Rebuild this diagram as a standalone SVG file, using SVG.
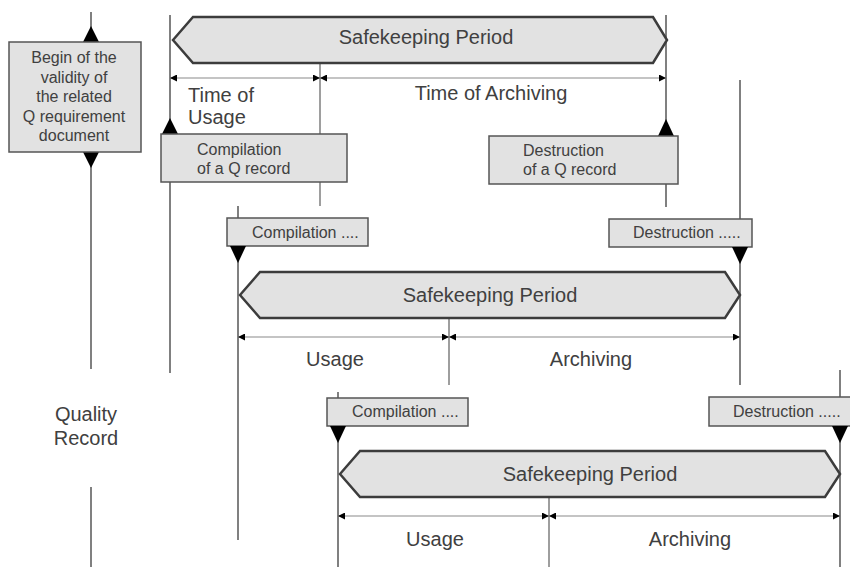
<svg xmlns="http://www.w3.org/2000/svg" width="850" height="567" viewBox="0 0 850 567">
  <style>
    .bg { fill: #ffffff; }
    .axis { stroke: #808080; stroke-width: 2; fill: none; }
    .tick { stroke: #6a6a6a; stroke-width: 1.3; fill: none; }
    .dim { stroke: #8a8a8a; stroke-width: 1.2; fill: none; }
    .box { fill: #e2e2e2; stroke: #555555; stroke-width: 1.5; }
    .period { fill: #e2e2e2; stroke: #3c3c3c; stroke-width: 2.5; stroke-linejoin: miter; }
    .tri { fill: #000000; }
    text { font-family: "Liberation Sans", Arial, sans-serif; fill: #404040; }
    .big { font-size: 20px; }
    .mid { font-size: 16px; }
    .small { font-size: 16px; }
  </style>
  <defs>
    <marker id="arrEnd" viewBox="0 0 10 10" refX="10" refY="5" markerWidth="7" markerHeight="7" markerUnits="userSpaceOnUse" orient="auto">
      <path d="M0,0 L10,5 L0,10 z" fill="#000"/>
    </marker>
    <marker id="arrStart" viewBox="0 0 10 10" refX="0" refY="5" markerWidth="7" markerHeight="7" markerUnits="userSpaceOnUse" orient="auto">
      <path d="M10,0 L0,5 L10,10 z" fill="#000"/>
    </marker>
  </defs>
  <rect class="bg" x="0" y="0" width="850" height="567"/>

  <!-- time axes and boundary lines -->
  <g id="connectors">
    <line class="axis" x1="91" y1="12" x2="91" y2="369"/>
    <line class="axis" x1="91" y1="487" x2="91" y2="567"/>
    <line class="axis" x1="170" y1="15" x2="170" y2="373"/>
    <line class="tick" x1="320" y1="63" x2="320" y2="206"/>
    <line class="axis" x1="666" y1="15" x2="666" y2="207"/>
    <line class="axis" x1="740" y1="80" x2="740" y2="385"/>
    <line class="axis" x1="238" y1="206" x2="238" y2="540"/>
    <line class="tick" x1="449" y1="318" x2="449" y2="385"/>
    <line class="axis" x1="338" y1="392" x2="338" y2="567"/>
    <line class="tick" x1="549" y1="497" x2="549" y2="567"/>
    <line class="axis" x1="840" y1="370" x2="840" y2="567"/>

    <!-- dimension lines -->
    <line class="dim" x1="170" y1="78" x2="320" y2="78" marker-start="url(#arrStart)" marker-end="url(#arrEnd)"/>
    <line class="dim" x1="320" y1="78" x2="666" y2="78" marker-start="url(#arrStart)" marker-end="url(#arrEnd)"/>
    <line class="dim" x1="238" y1="337" x2="449" y2="337" marker-start="url(#arrStart)" marker-end="url(#arrEnd)"/>
    <line class="dim" x1="449" y1="337" x2="740" y2="337" marker-start="url(#arrStart)" marker-end="url(#arrEnd)"/>
    <line class="dim" x1="338" y1="516" x2="549" y2="516" marker-start="url(#arrStart)" marker-end="url(#arrEnd)"/>
    <line class="dim" x1="549" y1="516" x2="840" y2="516" marker-start="url(#arrStart)" marker-end="url(#arrEnd)"/>
  </g>

  <!-- validity start -->
  <g id="validity">
    <polygon class="tri" points="91,26 83,42 99,42"/>
    <polygon class="tri" points="91,168 83,152 99,152"/>
    <rect class="box" x="9" y="42" width="132" height="110"/>
    <text class="mid" x="74" y="63" text-anchor="middle">Begin of the</text>
    <text class="mid" x="74" y="82.5" text-anchor="middle">validity of</text>
    <text class="mid" x="74" y="102" text-anchor="middle">the related</text>
    <text class="mid" x="74" y="121.5" text-anchor="middle">Q requirement</text>
    <text class="mid" x="74" y="141" text-anchor="middle">document</text>
  </g>

  <g id="quality-record-label">
    <text class="big" x="86" y="421" text-anchor="middle">Quality</text>
    <text class="big" x="86" y="445" text-anchor="middle">Record</text>
  </g>

  <!-- first record -->
  <g id="period-1">
    <polygon class="period" points="173,40 193,17 653,17 667,40 653,63 193,63"/>
    <text class="big" x="426" y="44" text-anchor="middle">Safekeeping Period</text>
  </g>
  <g id="labels-1">
    <text class="big" x="188" y="102">Time of</text>
    <text class="big" x="188" y="124">Usage</text>
    <text class="big" x="491" y="100" text-anchor="middle">Time of Archiving</text>
  </g>
  <g id="compilation-1">
    <polygon class="tri" points="170,118 162,134 178,134"/>
    <rect class="box" x="161" y="134" width="186" height="48"/>
    <text class="mid" x="197" y="155">Compilation</text>
    <text class="mid" x="197" y="174">of a Q record</text>
  </g>
  <g id="destruction-1">
    <polygon class="tri" points="666,119 658,136 674,136"/>
    <rect class="box" x="489" y="136" width="189" height="48"/>
    <text class="mid" x="523" y="156">Destruction</text>
    <text class="mid" x="523" y="175">of a Q record</text>
  </g>

  <!-- second record -->
  <g id="compilation-2">
    <rect class="box" x="227" y="218" width="141" height="28"/>
    <polygon class="tri" points="238,263 230,246 246,246"/>
    <text class="small" x="252" y="238">Compilation ....</text>
  </g>
  <g id="destruction-2">
    <rect class="box" x="609" y="219" width="143" height="28"/>
    <polygon class="tri" points="740,264 732,247 748,247"/>
    <text class="small" x="633" y="238">Destruction .....</text>
  </g>
  <g id="period-2">
    <polygon class="period" points="240,295 260,272 725,272 740,295 725,318 260,318"/>
    <text class="big" x="490" y="302" text-anchor="middle">Safekeeping Period</text>
  </g>
  <g id="labels-2">
    <text class="big" x="335" y="366" text-anchor="middle">Usage</text>
    <text class="big" x="591" y="366" text-anchor="middle">Archiving</text>
  </g>

  <!-- third record -->
  <g id="compilation-3">
    <rect class="box" x="327" y="398" width="141" height="28"/>
    <polygon class="tri" points="338,443 330,426 346,426"/>
    <text class="small" x="352" y="417">Compilation ....</text>
  </g>
  <g id="destruction-3">
    <rect class="box" x="709" y="397" width="142" height="29"/>
    <polygon class="tri" points="840,443 832,426 848,426"/>
    <text class="small" x="733" y="417">Destruction .....</text>
  </g>
  <g id="period-3">
    <polygon class="period" points="340,474 360,451 825,451 840,474 825,497 360,497"/>
    <text class="big" x="590" y="481" text-anchor="middle">Safekeeping Period</text>
  </g>
  <g id="labels-3">
    <text class="big" x="435" y="546" text-anchor="middle">Usage</text>
    <text class="big" x="690" y="546" text-anchor="middle">Archiving</text>
  </g>
</svg>
